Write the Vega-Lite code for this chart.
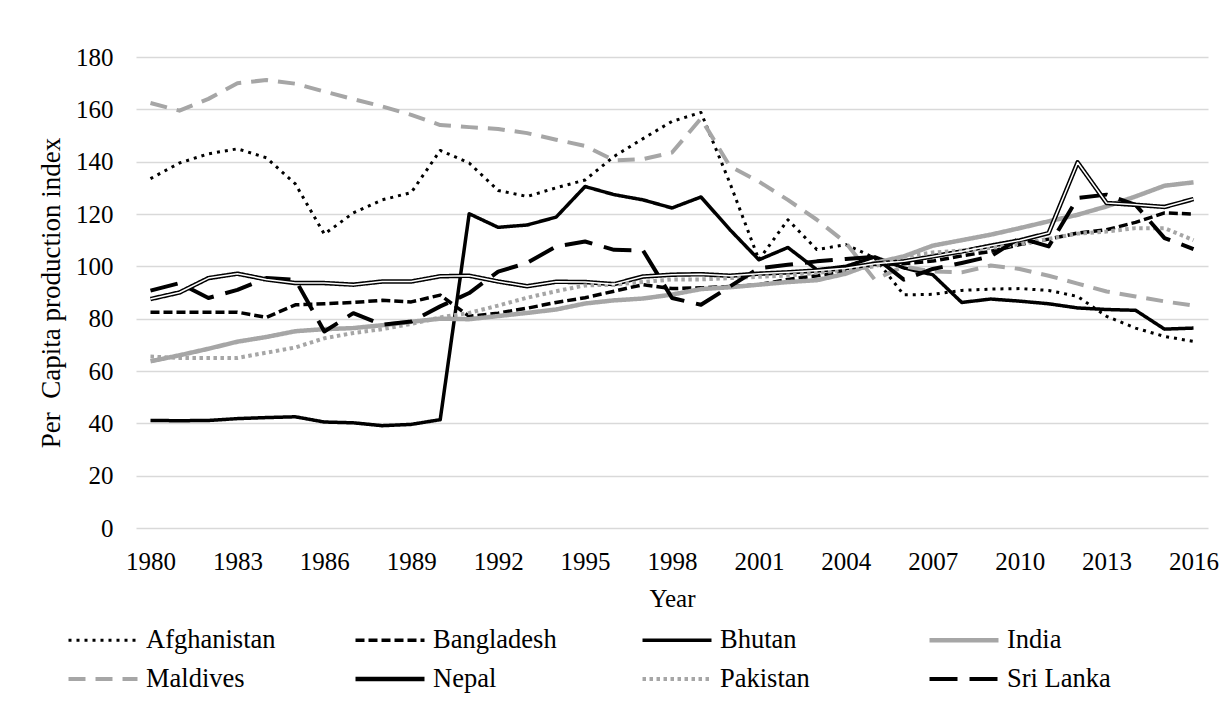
{
"$schema":"https://vega.github.io/schema/vega-lite/v6.json",
"width":1072,"height":471,
"autosize":{"type":"none"},
"padding":{"left":136,"top":57,"right":20,"bottom":180},
"background":"white",
"config":{"font":"Liberation Serif","view":{"stroke":null},"axis":{"labelColor":"black","titleColor":"black","labelFont":"Liberation Serif","titleFont":"Liberation Serif"},"legend":{"labelFont":"Liberation Serif","labelColor":"black"}},
"datasets":{"d":[
{"Year":1980,"Country":"Afghanistan","Value":133.5},{"Year":1981,"Country":"Afghanistan","Value":139.5},{"Year":1982,"Country":"Afghanistan","Value":143},{"Year":1983,"Country":"Afghanistan","Value":144.9},{"Year":1984,"Country":"Afghanistan","Value":141.5},{"Year":1985,"Country":"Afghanistan","Value":131.5},{"Year":1986,"Country":"Afghanistan","Value":112.3},{"Year":1987,"Country":"Afghanistan","Value":120.4},{"Year":1988,"Country":"Afghanistan","Value":125.4},{"Year":1989,"Country":"Afghanistan","Value":128.2},{"Year":1990,"Country":"Afghanistan","Value":144.3},{"Year":1991,"Country":"Afghanistan","Value":139.5},{"Year":1992,"Country":"Afghanistan","Value":129},{"Year":1993,"Country":"Afghanistan","Value":126.7},{"Year":1994,"Country":"Afghanistan","Value":130},{"Year":1995,"Country":"Afghanistan","Value":133},{"Year":1996,"Country":"Afghanistan","Value":142},{"Year":1997,"Country":"Afghanistan","Value":148.8},{"Year":1998,"Country":"Afghanistan","Value":155.4},{"Year":1999,"Country":"Afghanistan","Value":158.8},{"Year":2000,"Country":"Afghanistan","Value":131.8},{"Year":2001,"Country":"Afghanistan","Value":102.5},{"Year":2002,"Country":"Afghanistan","Value":117.8},{"Year":2003,"Country":"Afghanistan","Value":106.4},{"Year":2004,"Country":"Afghanistan","Value":108.3},{"Year":2005,"Country":"Afghanistan","Value":103.2},{"Year":2006,"Country":"Afghanistan","Value":89.1},{"Year":2007,"Country":"Afghanistan","Value":89.3},{"Year":2008,"Country":"Afghanistan","Value":90.8},{"Year":2009,"Country":"Afghanistan","Value":91.3},{"Year":2010,"Country":"Afghanistan","Value":91.5},{"Year":2011,"Country":"Afghanistan","Value":90.8},{"Year":2012,"Country":"Afghanistan","Value":88.5},{"Year":2013,"Country":"Afghanistan","Value":80.9},{"Year":2014,"Country":"Afghanistan","Value":76.4},{"Year":2015,"Country":"Afghanistan","Value":73.2},{"Year":2016,"Country":"Afghanistan","Value":71.3},
{"Year":1980,"Country":"Bangladesh","Value":82.5},{"Year":1981,"Country":"Bangladesh","Value":82.5},{"Year":1982,"Country":"Bangladesh","Value":82.5},{"Year":1983,"Country":"Bangladesh","Value":82.5},{"Year":1984,"Country":"Bangladesh","Value":80.5},{"Year":1985,"Country":"Bangladesh","Value":85.3},{"Year":1986,"Country":"Bangladesh","Value":85.7},{"Year":1987,"Country":"Bangladesh","Value":86.2},{"Year":1988,"Country":"Bangladesh","Value":87},{"Year":1989,"Country":"Bangladesh","Value":86.4},{"Year":1990,"Country":"Bangladesh","Value":89},{"Year":1991,"Country":"Bangladesh","Value":80.9},{"Year":1992,"Country":"Bangladesh","Value":82.1},{"Year":1993,"Country":"Bangladesh","Value":84},{"Year":1994,"Country":"Bangladesh","Value":86.2},{"Year":1995,"Country":"Bangladesh","Value":88},{"Year":1996,"Country":"Bangladesh","Value":90.5},{"Year":1997,"Country":"Bangladesh","Value":93},{"Year":1998,"Country":"Bangladesh","Value":91.5},{"Year":1999,"Country":"Bangladesh","Value":91.8},{"Year":2000,"Country":"Bangladesh","Value":92.3},{"Year":2001,"Country":"Bangladesh","Value":93},{"Year":2002,"Country":"Bangladesh","Value":95},{"Year":2003,"Country":"Bangladesh","Value":96.4},{"Year":2004,"Country":"Bangladesh","Value":98},{"Year":2005,"Country":"Bangladesh","Value":100.7},{"Year":2006,"Country":"Bangladesh","Value":101},{"Year":2007,"Country":"Bangladesh","Value":102},{"Year":2008,"Country":"Bangladesh","Value":104},{"Year":2009,"Country":"Bangladesh","Value":105.7},{"Year":2010,"Country":"Bangladesh","Value":108.3},{"Year":2011,"Country":"Bangladesh","Value":110.4},{"Year":2012,"Country":"Bangladesh","Value":112.7},{"Year":2013,"Country":"Bangladesh","Value":114},{"Year":2014,"Country":"Bangladesh","Value":116.8},{"Year":2015,"Country":"Bangladesh","Value":120.4},{"Year":2016,"Country":"Bangladesh","Value":120},
{"Year":1980,"Country":"Bhutan","Value":41.1},{"Year":1981,"Country":"Bhutan","Value":41},{"Year":1982,"Country":"Bhutan","Value":41.1},{"Year":1983,"Country":"Bhutan","Value":41.8},{"Year":1984,"Country":"Bhutan","Value":42.2},{"Year":1985,"Country":"Bhutan","Value":42.5},{"Year":1986,"Country":"Bhutan","Value":40.5},{"Year":1987,"Country":"Bhutan","Value":40.2},{"Year":1988,"Country":"Bhutan","Value":39.1},{"Year":1989,"Country":"Bhutan","Value":39.6},{"Year":1990,"Country":"Bhutan","Value":41.4},{"Year":1991,"Country":"Bhutan","Value":120.1},{"Year":1992,"Country":"Bhutan","Value":114.9},{"Year":1993,"Country":"Bhutan","Value":115.8},{"Year":1994,"Country":"Bhutan","Value":118.8},{"Year":1995,"Country":"Bhutan","Value":130.5},{"Year":1996,"Country":"Bhutan","Value":127.4},{"Year":1997,"Country":"Bhutan","Value":125.4},{"Year":1998,"Country":"Bhutan","Value":122.3},{"Year":1999,"Country":"Bhutan","Value":126.5},{"Year":2000,"Country":"Bhutan","Value":114},{"Year":2001,"Country":"Bhutan","Value":102.5},{"Year":2002,"Country":"Bhutan","Value":107.2},{"Year":2003,"Country":"Bhutan","Value":98.7},{"Year":2004,"Country":"Bhutan","Value":100},{"Year":2005,"Country":"Bhutan","Value":103.6},{"Year":2006,"Country":"Bhutan","Value":99.4},{"Year":2007,"Country":"Bhutan","Value":96.8},{"Year":2008,"Country":"Bhutan","Value":86.2},{"Year":2009,"Country":"Bhutan","Value":87.5},{"Year":2010,"Country":"Bhutan","Value":86.7},{"Year":2011,"Country":"Bhutan","Value":85.7},{"Year":2012,"Country":"Bhutan","Value":84.1},{"Year":2013,"Country":"Bhutan","Value":83.5},{"Year":2014,"Country":"Bhutan","Value":83.2},{"Year":2015,"Country":"Bhutan","Value":76},{"Year":2016,"Country":"Bhutan","Value":76.4},
{"Year":1980,"Country":"India","Value":63.7},{"Year":1981,"Country":"India","Value":66},{"Year":1982,"Country":"India","Value":68.5},{"Year":1983,"Country":"India","Value":71.2},{"Year":1984,"Country":"India","Value":73},{"Year":1985,"Country":"India","Value":75.2},{"Year":1986,"Country":"India","Value":76},{"Year":1987,"Country":"India","Value":76.4},{"Year":1988,"Country":"India","Value":77.5},{"Year":1989,"Country":"India","Value":78.8},{"Year":1990,"Country":"India","Value":80},{"Year":1991,"Country":"India","Value":79.8},{"Year":1992,"Country":"India","Value":81},{"Year":1993,"Country":"India","Value":82.2},{"Year":1994,"Country":"India","Value":83.5},{"Year":1995,"Country":"India","Value":85.8},{"Year":1996,"Country":"India","Value":87},{"Year":1997,"Country":"India","Value":87.7},{"Year":1998,"Country":"India","Value":89.2},{"Year":1999,"Country":"India","Value":91.3},{"Year":2000,"Country":"India","Value":92},{"Year":2001,"Country":"India","Value":93},{"Year":2002,"Country":"India","Value":94},{"Year":2003,"Country":"India","Value":94.7},{"Year":2004,"Country":"India","Value":97.2},{"Year":2005,"Country":"India","Value":101.3},{"Year":2006,"Country":"India","Value":103.8},{"Year":2007,"Country":"India","Value":107.9},{"Year":2008,"Country":"India","Value":110},{"Year":2009,"Country":"India","Value":112.1},{"Year":2010,"Country":"India","Value":114.6},{"Year":2011,"Country":"India","Value":117.2},{"Year":2012,"Country":"India","Value":119.7},{"Year":2013,"Country":"India","Value":122.9},{"Year":2014,"Country":"India","Value":126.7},{"Year":2015,"Country":"India","Value":130.8},{"Year":2016,"Country":"India","Value":132.1},
{"Year":1980,"Country":"Maldives","Value":162.4},{"Year":1981,"Country":"Maldives","Value":159.5},{"Year":1982,"Country":"Maldives","Value":164},{"Year":1983,"Country":"Maldives","Value":170},{"Year":1984,"Country":"Maldives","Value":171.2},{"Year":1985,"Country":"Maldives","Value":169.8},{"Year":1986,"Country":"Maldives","Value":166.8},{"Year":1987,"Country":"Maldives","Value":163.9},{"Year":1988,"Country":"Maldives","Value":161.1},{"Year":1989,"Country":"Maldives","Value":157.9},{"Year":1990,"Country":"Maldives","Value":154},{"Year":1991,"Country":"Maldives","Value":153.2},{"Year":1992,"Country":"Maldives","Value":152.5},{"Year":1993,"Country":"Maldives","Value":150.9},{"Year":1994,"Country":"Maldives","Value":148.4},{"Year":1995,"Country":"Maldives","Value":146},{"Year":1996,"Country":"Maldives","Value":140.5},{"Year":1997,"Country":"Maldives","Value":141},{"Year":1998,"Country":"Maldives","Value":143.5},{"Year":1999,"Country":"Maldives","Value":156.5},{"Year":2000,"Country":"Maldives","Value":138.2},{"Year":2001,"Country":"Maldives","Value":132.4},{"Year":2002,"Country":"Maldives","Value":125.4},{"Year":2003,"Country":"Maldives","Value":117.8},{"Year":2004,"Country":"Maldives","Value":109},{"Year":2005,"Country":"Maldives","Value":94.9},{"Year":2006,"Country":"Maldives","Value":100},{"Year":2007,"Country":"Maldives","Value":98},{"Year":2008,"Country":"Maldives","Value":97.7},{"Year":2009,"Country":"Maldives","Value":100.3},{"Year":2010,"Country":"Maldives","Value":99},{"Year":2011,"Country":"Maldives","Value":96.4},{"Year":2012,"Country":"Maldives","Value":93.4},{"Year":2013,"Country":"Maldives","Value":90.4},{"Year":2014,"Country":"Maldives","Value":88.5},{"Year":2015,"Country":"Maldives","Value":86.6},{"Year":2016,"Country":"Maldives","Value":85},
{"Year":1980,"Country":"Nepal","Value":87.5},{"Year":1981,"Country":"Nepal","Value":90},{"Year":1982,"Country":"Nepal","Value":95.5},{"Year":1983,"Country":"Nepal","Value":97.2},{"Year":1984,"Country":"Nepal","Value":95},{"Year":1985,"Country":"Nepal","Value":93.6},{"Year":1986,"Country":"Nepal","Value":93.6},{"Year":1987,"Country":"Nepal","Value":93},{"Year":1988,"Country":"Nepal","Value":94.2},{"Year":1989,"Country":"Nepal","Value":94.2},{"Year":1990,"Country":"Nepal","Value":96.2},{"Year":1991,"Country":"Nepal","Value":96.4},{"Year":1992,"Country":"Nepal","Value":94.2},{"Year":1993,"Country":"Nepal","Value":92.4},{"Year":1994,"Country":"Nepal","Value":94.1},{"Year":1995,"Country":"Nepal","Value":94},{"Year":1996,"Country":"Nepal","Value":93.2},{"Year":1997,"Country":"Nepal","Value":96.1},{"Year":1998,"Country":"Nepal","Value":96.8},{"Year":1999,"Country":"Nepal","Value":97},{"Year":2000,"Country":"Nepal","Value":96.4},{"Year":2001,"Country":"Nepal","Value":97.2},{"Year":2002,"Country":"Nepal","Value":97.7},{"Year":2003,"Country":"Nepal","Value":98.4},{"Year":2004,"Country":"Nepal","Value":99.3},{"Year":2005,"Country":"Nepal","Value":101},{"Year":2006,"Country":"Nepal","Value":101.9},{"Year":2007,"Country":"Nepal","Value":103.8},{"Year":2008,"Country":"Nepal","Value":105.7},{"Year":2009,"Country":"Nepal","Value":107.9},{"Year":2010,"Country":"Nepal","Value":109.9},{"Year":2011,"Country":"Nepal","Value":112.7},{"Year":2012,"Country":"Nepal","Value":139.7},{"Year":2013,"Country":"Nepal","Value":124.2},{"Year":2014,"Country":"Nepal","Value":123.5},{"Year":2015,"Country":"Nepal","Value":122.7},{"Year":2016,"Country":"Nepal","Value":125.7},
{"Year":1980,"Country":"Pakistan","Value":65.5},{"Year":1981,"Country":"Pakistan","Value":65},{"Year":1982,"Country":"Pakistan","Value":65},{"Year":1983,"Country":"Pakistan","Value":65},{"Year":1984,"Country":"Pakistan","Value":67},{"Year":1985,"Country":"Pakistan","Value":69},{"Year":1986,"Country":"Pakistan","Value":72.5},{"Year":1987,"Country":"Pakistan","Value":74.5},{"Year":1988,"Country":"Pakistan","Value":76},{"Year":1989,"Country":"Pakistan","Value":78},{"Year":1990,"Country":"Pakistan","Value":80.5},{"Year":1991,"Country":"Pakistan","Value":82.2},{"Year":1992,"Country":"Pakistan","Value":85},{"Year":1993,"Country":"Pakistan","Value":88},{"Year":1994,"Country":"Pakistan","Value":90.5},{"Year":1995,"Country":"Pakistan","Value":92.7},{"Year":1996,"Country":"Pakistan","Value":93},{"Year":1997,"Country":"Pakistan","Value":94},{"Year":1998,"Country":"Pakistan","Value":95},{"Year":1999,"Country":"Pakistan","Value":95},{"Year":2000,"Country":"Pakistan","Value":95.5},{"Year":2001,"Country":"Pakistan","Value":96},{"Year":2002,"Country":"Pakistan","Value":96.5},{"Year":2003,"Country":"Pakistan","Value":97.5},{"Year":2004,"Country":"Pakistan","Value":98.7},{"Year":2005,"Country":"Pakistan","Value":100},{"Year":2006,"Country":"Pakistan","Value":103.8},{"Year":2007,"Country":"Pakistan","Value":105.3},{"Year":2008,"Country":"Pakistan","Value":106},{"Year":2009,"Country":"Pakistan","Value":107},{"Year":2010,"Country":"Pakistan","Value":108.5},{"Year":2011,"Country":"Pakistan","Value":110.5},{"Year":2012,"Country":"Pakistan","Value":112.5},{"Year":2013,"Country":"Pakistan","Value":113.3},{"Year":2014,"Country":"Pakistan","Value":114.6},{"Year":2015,"Country":"Pakistan","Value":114.6},{"Year":2016,"Country":"Pakistan","Value":110},
{"Year":1980,"Country":"Sri Lanka","Value":90.7},{"Year":1981,"Country":"Sri Lanka","Value":93.6},{"Year":1982,"Country":"Sri Lanka","Value":87.9},{"Year":1983,"Country":"Sri Lanka","Value":91},{"Year":1984,"Country":"Sri Lanka","Value":95.5},{"Year":1985,"Country":"Sri Lanka","Value":94.9},{"Year":1986,"Country":"Sri Lanka","Value":75.1},{"Year":1987,"Country":"Sri Lanka","Value":82.1},{"Year":1988,"Country":"Sri Lanka","Value":77.7},{"Year":1989,"Country":"Sri Lanka","Value":78.9},{"Year":1990,"Country":"Sri Lanka","Value":84.7},{"Year":1991,"Country":"Sri Lanka","Value":89.8},{"Year":1992,"Country":"Sri Lanka","Value":98},{"Year":1993,"Country":"Sri Lanka","Value":101.3},{"Year":1994,"Country":"Sri Lanka","Value":107.6},{"Year":1995,"Country":"Sri Lanka","Value":109.5},{"Year":1996,"Country":"Sri Lanka","Value":106.3},{"Year":1997,"Country":"Sri Lanka","Value":106.1},{"Year":1998,"Country":"Sri Lanka","Value":87.9},{"Year":1999,"Country":"Sri Lanka","Value":85.3},{"Year":2000,"Country":"Sri Lanka","Value":92.3},{"Year":2001,"Country":"Sri Lanka","Value":99.3},{"Year":2002,"Country":"Sri Lanka","Value":100.6},{"Year":2003,"Country":"Sri Lanka","Value":101.9},{"Year":2004,"Country":"Sri Lanka","Value":102.8},{"Year":2005,"Country":"Sri Lanka","Value":103.6},{"Year":2006,"Country":"Sri Lanka","Value":94.9},{"Year":2007,"Country":"Sri Lanka","Value":99},{"Year":2008,"Country":"Sri Lanka","Value":101.3},{"Year":2009,"Country":"Sri Lanka","Value":103.8},{"Year":2010,"Country":"Sri Lanka","Value":110.8},{"Year":2011,"Country":"Sri Lanka","Value":107.6},{"Year":2012,"Country":"Sri Lanka","Value":126.1},{"Year":2013,"Country":"Sri Lanka","Value":127.4},{"Year":2014,"Country":"Sri Lanka","Value":123.5},{"Year":2015,"Country":"Sri Lanka","Value":110.8},{"Year":2016,"Country":"Sri Lanka","Value":106.6}
]},
"data":{"name":"d"},
"layer":[
{"mark":{"type":"line","strokeCap":"butt","strokeJoin":"round"},
 "encoding":{
  "x":{"field":"Year","type":"quantitative","scale":{"domain":[1979.5,2016.5],"nice":false,"zero":false},
       "axis":{"values":[1980,1983,1986,1989,1992,1995,1998,2001,2004,2007,2010,2013,2016],"format":"d","grid":false,"ticks":false,"tickSize":0,"domain":false,"labelFontSize":25,"labelBaseline":"alphabetic","labelPadding":41,"title":"Year","titleFontSize":25,"titleFontWeight":"normal","titleBaseline":"alphabetic","titleY":78}},
  "y":{"field":"Value","type":"quantitative","scale":{"domain":[0,180],"nice":false},
       "axis":{"values":[0,20,40,60,80,100,120,140,160,180],"grid":true,"gridColor":"#d9d9d9","gridWidth":1.5,"domain":false,"ticks":false,"tickSize":0,"labelPadding":23,"labelFontSize":25,"title":"Per\u00a0\u00a0Capita production index","titleFontSize":27,"titleFontWeight":"normal","titleBaseline":"middle","titleX":-85}},
  "color":{"field":"Country","type":"nominal","scale":{"domain":["Afghanistan","Bangladesh","Bhutan","India","Maldives","Nepal","Pakistan","Sri Lanka"],"range":["#000000","#000000","#000000","#a6a6a6","#a6a6a6","#000000","#a6a6a6","#000000"]},
     "legend":{"title":null,"orient":"none","legendX":-70,"legendY":570,"direction":"horizontal","columns":4,"gridAlign":"all","symbolType":"stroke","symbolSize":4761,"labelFont":"Liberation Serif","labelFontSize":26.5,"labelOffset":6,"columnPadding":77,"rowPadding":12,"clipHeight":26}},
  "strokeDash":{"field":"Country","type":"nominal","scale":{"domain":["Afghanistan","Bangladesh","Bhutan","India","Maldives","Nepal","Pakistan","Sri Lanka"],"range":[[3,5],[9,4],[1,0],[1,0],[17,10],[1,0],[3.5,3.5],[28,12]]},
     "legend":{"title":null,"orient":"none","legendX":-70,"legendY":570,"direction":"horizontal","columns":4,"gridAlign":"all","symbolType":"stroke","symbolSize":4761,"labelFont":"Liberation Serif","labelFontSize":26.5,"labelOffset":6,"columnPadding":77,"rowPadding":12,"clipHeight":26}},
  "strokeWidth":{"field":"Country","type":"nominal","scale":{"type":"ordinal","domain":["Afghanistan","Bangladesh","Bhutan","India","Maldives","Nepal","Pakistan","Sri Lanka"],"range":[3,3.5,3.5,4.5,4,4.5,4,4]},
     "legend":{"title":null,"orient":"none","legendX":-70,"legendY":570,"direction":"horizontal","columns":4,"gridAlign":"all","symbolType":"stroke","symbolSize":4761,"labelFont":"Liberation Serif","labelFontSize":26.5,"labelOffset":6,"columnPadding":77,"rowPadding":12,"clipHeight":26}}
 }},
{"transform":[{"filter":"datum.Country === 'Nepal'"}],
 "mark":{"type":"line","color":"white","strokeWidth":1.5,"strokeJoin":"round"},
 "encoding":{"x":{"field":"Year","type":"quantitative"},"y":{"field":"Value","type":"quantitative"}}}
]
}
